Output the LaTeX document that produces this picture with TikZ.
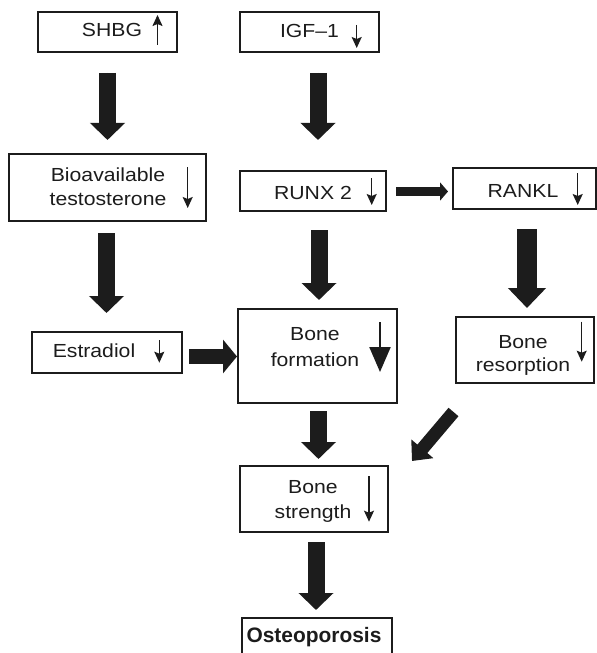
\documentclass[tikz,border=0pt]{standalone}
\usepackage{fontspec}
\setmainfont{Liberation Sans}[FakeStretch=1.12]
\newfontfamily\plainsans{Liberation Sans}
\usetikzlibrary{arrows.meta,calc}
\definecolor{ink}{HTML}{1C1C1C}
\tikzset{
  box/.style={draw=ink, line width=1.1bp, inner sep=0pt, outer sep=0pt},
  lbl/.style={inner sep=0pt, anchor=base, align=center, text=ink,
              font=\fontsize{19}{24}\selectfont},
  bigarrow/.style={draw=ink, fill=ink, line width=17bp,
                   -{Triangle[length=17bp,width=34bp]}},
  updown/.style={draw=ink, line width=1.3bp,
                 -{Stealth[length=11bp,width=10bp,inset=2bp]}},
}
\begin{document}
\begin{tikzpicture}[x=1bp,y=-1bp]
\useasboundingbox (0,0) rectangle (597,653);
\clip (0,0) rectangle (597,653);
% boxes
\node[box, minimum width=139bp, minimum height=40bp] (shbg) at (107.5,32) {};
\node[box, minimum width=139bp, minimum height=40bp] (igf) at (309.5,32) {};
\node[box, minimum width=197bp, minimum height=67bp] (bio) at (107.5,187.5) {};
\node[box, minimum width=146bp, minimum height=40bp] (runx) at (313,191) {};
\node[box, minimum width=143bp, minimum height=41bp] (rankl) at (524.5,188.5) {};
\node[box, minimum width=150bp, minimum height=41bp] (estr) at (107,352.5) {};
\node[box, minimum width=159bp, minimum height=94bp] (bf) at (317.5,356) {};
\node[box, minimum width=138bp, minimum height=66bp] (res) at (525,350) {};
\node[box, minimum width=148bp, minimum height=66bp] (str) at (314,499) {};
\node[box, minimum width=150bp, minimum height=50bp] (ost) at (317,643) {};
% texts (base anchor = baseline of the last line)
\node[lbl] (tshbg) at (112,37) {SHBG};
\node[lbl] (tigf) at (309.5,38) {IGF–1};
\node[lbl] (tbio) at (108,205) {Bioavailable\\testosterone};
\node[lbl] (trunx) at (313,199) {RUNX 2};
\node[lbl] (trankl) at (523,197) {RANKL};
\node[lbl] (testr) at (94,357) {Estradiol};
\node[lbl, font=\fontsize{19}{26}\selectfont] (tbf) at (315,366) {Bone\\formation};
\node[lbl, font=\fontsize{19}{23.5}\selectfont] (tres) at (523,371.5) {Bone\\resorption};
\node[lbl, font=\fontsize{19}{25}\selectfont] (tstr) at (313,518) {Bone\\strength};
\node[lbl, font=\plainsans\bfseries\fontsize{21}{25}\selectfont] (tost) at (314,642) {Osteoporosis};
% small up/down arrows
\draw[updown] (157.5,45) -- (157.5,15);
\draw[updown] (356.7,25) -- (356.7,48);
\draw[updown] (187.7,167) -- (187.7,208);
\draw[updown] (371.7,178) -- (371.7,205);
\draw[updown] (577.7,173) -- (577.7,205);
\draw[updown] (159.3,340) -- (159.3,362.7);
\draw[updown] (581.7,321.7) -- (581.7,361.7);
\draw[updown] (369,476) -- (369,521.7);
\draw[draw=ink, line width=2.2bp, -{Triangle[length=25bp,width=21bp]}] (380,322) -- (380,372);
% connectors
\draw[bigarrow] ($(shbg.south)+(0,21)$) -- ($(bio.north)+(0,-14)$);
\draw[bigarrow] ($(igf.south)+(8.5,21)$) -- ($(igf.south|-runx.north)+(8.5,-31)$);
\draw[bigarrow] ($(bio.south)+(-1,12)$) -- ($(bio.south|-estr.north)+(-1,-19)$);
\draw[bigarrow] ($(runx.south)+(6,19)$) -- ($(runx.south|-bf.north)+(6,-9)$);
\draw[bigarrow, line width=20bp, -{Triangle[length=20bp,width=37bp]}]
  ($(rankl.south)+(2.5,20)$) -- ($(rankl.south|-res.north)+(2.5,-9)$);
\draw[bigarrow, line width=9bp, -{Triangle[length=8bp,width=18bp]}]
  ($(runx.east)+(10,0.5)$) -- ($(rankl.west|-runx.east)+(-5,0.5)$);
\draw[bigarrow, line width=15bp, -{Triangle[length=14bp,width=33bp]}]
  ($(estr.east)+(7,4)$) -- ($(bf.west|-estr.east)+(-1,4)$);
\draw[bigarrow] ($(bf.south)+(1,8)$) -- ($(bf.south|-str.north)+(1,-7)$);
\draw[bigarrow, line width=13bp, -{Triangle[length=16bp,width=28bp]}]
  ($(res.south west)+(-2.5,29)$) -- ($(str.north east)+(24,-5)$);
\draw[bigarrow] ($(str.south)+(2,10)$) -- ($(str.south|-ost.north)+(2,-8)$);
\end{tikzpicture}
\end{document}
